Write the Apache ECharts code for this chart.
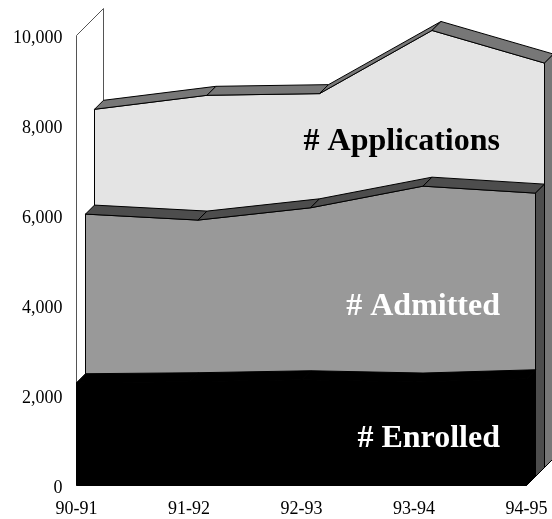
<!DOCTYPE html>
<html><head><meta charset="utf-8">
<style>html,body{margin:0;padding:0;background:#fff;overflow:hidden}#c{width:552px;height:519px}</style>
<script src="https://cdn.jsdelivr.net/npm/echarts@6/dist/echarts.min.js"></script>
</head><body><div id="c"></div>
<script>
const years = ['90-91','91-92','92-93','93-94','94-95'];
const enrolled = [2284,2306,2350,2299,2372];
const admitted = [5831,5698,5971,6452,6297];
const applications = [7960,8271,8308,9712,8987];
const yMax = 10000, yStep = 2000;
const FONT = '"Liberation Serif","Times New Roman",serif';
const DEPTH = 9;

function layerSeries(name, values, row, faceColor, bandColor, edgeColor) {
  return {
    type: 'custom', name, coordinateSystem: 'cartesian2d', clip: false,
    data: values.map((v, i) => [years[i], v]),
    encode: { x: 0, y: 1 },
    silent: true,
    renderItem(params, api) {
      if (params.dataIndex !== 0) return null;
      const s = DEPTH * row;
      const pts = values.map((v, i) => api.coord([years[i], v]));
      const base = api.coord([years[0], 0])[1];
      const n = pts.length;
      const front = pts.map(p => [p[0] + s, p[1] - s]);
      const back = pts.map(p => [p[0] + s + DEPTH, p[1] - s - DEPTH]);
      const style = fill => ({ fill, stroke: edgeColor, lineWidth: 1 });
      const poly = (points, fill) => ({ type: 'polygon', shape: { points }, style: style(fill) });
      const kids = [];
      const x0 = front[0][0], xE = front[n - 1][0], b = base - s;
      kids.push(poly([...front, [xE, b], [x0, b]], faceColor));
      for (let i = 0; i < n - 1; i++) {
        kids.push(poly([front[i], front[i + 1], back[i + 1], back[i]], bandColor));
      }
      kids.push(poly([front[n - 1], back[n - 1], [xE + DEPTH, b - DEPTH], [xE, b]], bandColor));
      return { type: 'group', children: kids };
    }
  };
}

const wallSeries = {
  type: 'custom', name: 'wall', coordinateSystem: 'cartesian2d', clip: false, silent: true,
  data: [[years[0], yMax]], encode: { x: 0, y: 1 },
  renderItem(params, api) {
    const top = api.coord([years[0], yMax]);
    const bot = api.coord([years[0], 0]);
    const d = DEPTH * 3;
    return {
      type: 'polyline',
      shape: { points: [bot, top, [top[0] + d, top[1] - d], [bot[0] + d, bot[1] - d]] },
      style: { fill: null, stroke: '#555', lineWidth: 1 }
    };
  }
};

const txt = (text, top, fill) => ({
  type: 'text', right: 52, top, z: 100,
  style: { text, fill, font: 'bold 32px ' + FONT, textAlign: 'right' }
});

const chart = echarts.init(document.getElementById('c'), null, { renderer: 'canvas' });
chart.setOption({
  animation: false,
  backgroundColor: '#fff',
  grid: { left: 76.5, right: 25.5, top: 35.5, bottom: 33.5, containLabel: false },
  xAxis: {
    type: 'category', data: years, boundaryGap: false,
    axisLine: { show: false }, axisTick: { show: false }, splitLine: { show: false },
    axisLabel: { color: '#000', fontFamily: FONT, fontSize: 18, margin: 15, interval: 0, hideOverlap: false }
  },
  yAxis: {
    type: 'value', min: 0, max: yMax, interval: yStep,
    axisLine: { show: false }, axisTick: { show: false }, splitLine: { show: false },
    axisLabel: { color: '#000', fontFamily: FONT, fontSize: 18, margin: 14, verticalAlign: 'top', lineHeight: 6,
      formatter: v => v.toLocaleString('en-US') }
  },
  series: [
    wallSeries,
    layerSeries('# Applications', applications, 2, '#e4e4e4', '#777777', '#000'),
    layerSeries('# Admitted', admitted, 1, '#999999', '#4d4d4d', '#000'),
    layerSeries('# Enrolled', enrolled, 0, '#000000', '#000000', '#000')
  ],
  graphic: [
    txt('# Applications', 126, '#000'),
    txt('# Admitted', 291, '#fff'),
    txt('# Enrolled', 423, '#fff')
  ]
});
</script></body></html>
